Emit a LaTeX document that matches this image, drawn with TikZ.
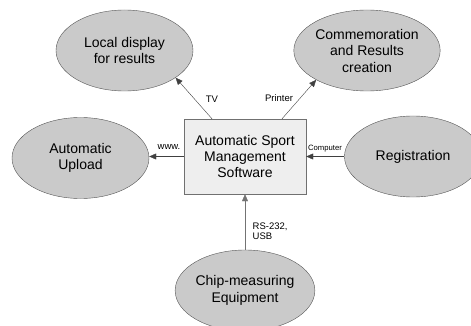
\documentclass[tikz,border=0pt]{standalone}
\usepackage{fontspec}
\setmainfont{Liberation Sans}
\usepackage{xcolor}
\usetikzlibrary{arrows.meta,shapes.geometric}

\definecolor{ovalfill}{HTML}{CACACA}
\definecolor{ovaldraw}{HTML}{555555}
\definecolor{boxfill}{HTML}{EEEEEE}
\definecolor{boxdraw}{HTML}{707070}

\begin{document}
\begin{tikzpicture}[
  x=1pt, y=-1pt,
  oval/.style={ellipse, draw=ovaldraw, fill=ovalfill, inner sep=0pt, align=center,
    minimum width=137pt, minimum height=81pt, font=\fontsize{14}{16.5}\selectfont},
  core/.style={rectangle, draw=boxdraw, fill=boxfill, align=center, inner sep=0pt,
    minimum width=122pt, minimum height=75pt, font=\fontsize{14}{16}\selectfont},
  tag/.style={inner sep=0pt, font=\fontsize{9.5}{10}\selectfont},
  arrow/.style={-{Triangle[length=7pt, width=6pt]}, draw=black!75}]
\useasboundingbox (0,0) rectangle (471,326);
\node[core] (asms) at (245,156.5) {Automatic Sport\\Management\\Software};
\node[oval] (display) at (124.5,50.5) {Local display\\for results};
\node[oval] (memo) at (367,50.5) {Commemoration\\and Results\\creation};
\node[oval] (upload) at (80.5,158) {Automatic\\Upload};
\node[oval] (regist) at (413,156.5) {Registration};
\node[oval] (chip) at (245,290.5) {Chip-measuring\\Equipment};
% outgoing links
\draw[arrow] ([xshift=-33pt]asms.north) -- (display.-28);
\draw[arrow] ([xshift=37pt]asms.north) -- (memo.210);
\draw[arrow] (asms.west) -- (upload.east |- asms.west);
% incoming links
\draw[arrow] (regist.west) -- (asms.east);
\draw[arrow, draw=black!55] (chip.north) -- (asms.south);
% link labels
\node[tag] (tv) at (212,99) {TV};
\node[tag] (printer) at (279,98) {Printer};
\node[tag] (www) at (169,147) {www.};
\node[tag, font=\fontsize{7.7}{9}\selectfont] (computer) at (325,149) {Computer};
\node[tag, anchor=west, align=left] (rs) at (252.5,231) {RS-232,\\USB};
\end{tikzpicture}
\end{document}
